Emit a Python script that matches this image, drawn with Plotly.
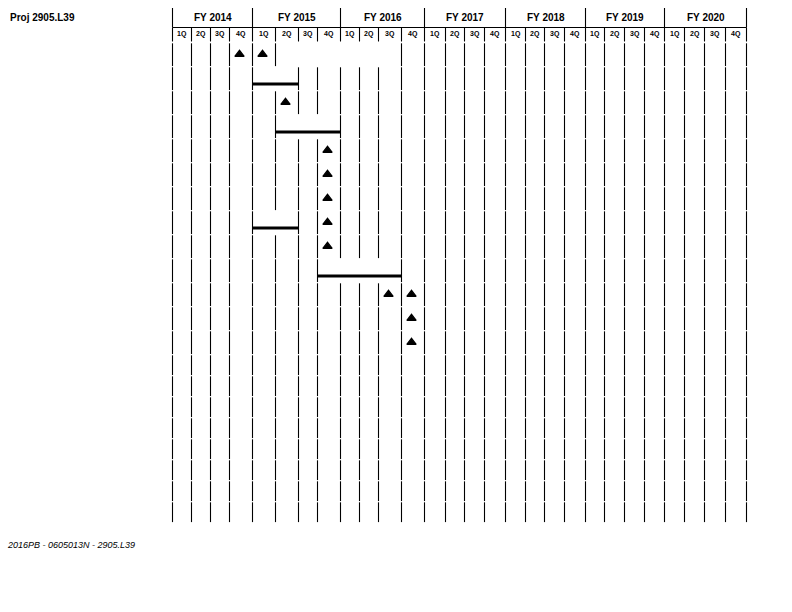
import plotly.graph_objects as go

# ---------------- data ----------------
project_label = "Proj 2905.L39"
footer_label = "2016PB - 0605013N - 2905.L39"
fiscal_years = ["FY 2014", "FY 2015", "FY 2016", "FY 2017", "FY 2018", "FY 2019", "FY 2020"]
quarter_labels = ["1Q", "2Q", "3Q", "4Q"]
n_rows = 21

# milestones (triangles): row number, fiscal year, quarter
milestone_row = [1, 1, 3, 5, 6, 7, 8, 9, 11, 11, 12, 13]
milestone_fy = ["FY 2014", "FY 2015", "FY 2015", "FY 2015", "FY 2015", "FY 2015",
                "FY 2015", "FY 2015", "FY 2016", "FY 2016", "FY 2016", "FY 2016"]
milestone_q = ["4Q", "1Q", "2Q", "4Q", "4Q", "4Q", "4Q", "4Q", "3Q", "4Q", "4Q", "4Q"]

# activity bars: row number, start (fy, quarter), end (fy, quarter)
bar_row = [2, 4, 8, 10]
bar_from_fy = ["FY 2015", "FY 2015", "FY 2015", "FY 2015"]
bar_from_q = ["1Q", "2Q", "1Q", "4Q"]
bar_to_fy = ["FY 2015", "FY 2015", "FY 2015", "FY 2016"]
bar_to_q = ["2Q", "4Q", "2Q", "3Q"]

# merged (borderless) cell spans without a bar
blank_row = [1]
blank_from_fy = ["FY 2015"]
blank_from_q = ["2Q"]
blank_to_fy = ["FY 2016"]
blank_to_q = ["3Q"]

# ---------------- layout (page units) ----------------
W, H = 792, 612
GRID_X0 = 172.5
QUARTER_WIDTHS = [19, 19, 19, 23, 23, 23, 19, 23, 19, 19, 23, 23, 21, 19,
                  20, 21, 20, 19, 20, 21, 19, 20, 20, 20, 20, 20, 21, 21]
FY_TOP, FY_BOTTOM = 8.0, 27.5
Q_BOTTOM = 41.5
ROWS_TOP = 42.7
ROW_HEIGHTS = [24] * 13 + [21] * 8
FONT = "Liberation Sans, Arial, sans-serif"

edges = [GRID_X0]
for w in QUARTER_WIDTHS:
    edges.append(edges[-1] + w)

row_tops = [ROWS_TOP]
for h in ROW_HEIGHTS:
    row_tops.append(row_tops[-1] + h)


def qidx(fy, q):
    return fiscal_years.index(fy) * 4 + quarter_labels.index(q)


def qcenter(fy, q):
    i = qidx(fy, q)
    return (edges[i] + edges[i + 1]) / 2


# interior edges suppressed per row (merged cells)
suppressed = {}
for r, f1, q1, f2, q2 in zip(bar_row + blank_row, bar_from_fy + blank_from_fy,
                             bar_from_q + blank_from_q, bar_to_fy + blank_to_fy,
                             bar_to_q + blank_to_q):
    a, b = qidx(f1, q1), qidx(f2, q2)
    suppressed.setdefault(r, set()).update(range(a + 1, b + 1))

fig = go.Figure()

# grid lines
gx, gy = [], []
# header: fiscal-year separators
for k in range(0, len(edges), 4):
    gx += [edges[k], edges[k], None]
    gy += [FY_TOP, FY_BOTTOM, None]
# header: line under fiscal years
gx += [edges[0], edges[-1], None]
gy += [FY_BOTTOM, FY_BOTTOM, None]
# header: quarter separators
for e in edges:
    gx += [e, e, None]
    gy += [FY_BOTTOM, Q_BOTTOM, None]
# body rows
for r in range(1, n_rows + 1):
    top, bot = row_tops[r - 1], row_tops[r]
    for k, e in enumerate(edges):
        if k in suppressed.get(r, set()):
            continue
        gx += [e, e, None]
        gy += [top + 0.6, bot - 0.6, None]

fig.add_trace(go.Scatter(x=gx, y=gy, mode="lines",
                         line=dict(color="black", width=1.1),
                         hoverinfo="skip", showlegend=False))

# activity bars
bx, by = [], []
for r, f1, q1, f2, q2 in zip(bar_row, bar_from_fy, bar_from_q, bar_to_fy, bar_to_q):
    y = row_tops[r - 1] + 17.3
    bx += [edges[qidx(f1, q1)], edges[qidx(f2, q2) + 1], None]
    by += [y, y, None]
fig.add_trace(go.Scatter(x=bx, y=by, mode="lines",
                         line=dict(color="black", width=3),
                         hoverinfo="skip", showlegend=False))

# milestones
mx = [qcenter(f, q) - 1.5 for f, q in zip(milestone_fy, milestone_q)]
my = [(row_tops[r - 1] + row_tops[r]) / 2 - 0.3 for r in milestone_row]
fig.add_trace(go.Scatter(x=mx, y=my, mode="markers",
                         marker=dict(symbol="triangle-up", size=8, color="black",
                                     line=dict(color="black", width=1.4)),
                         hoverinfo="skip", showlegend=False))

# texts
ann = []
for i, fy in enumerate(fiscal_years):
    ann.append(dict(x=(edges[4 * i] + edges[4 * i + 4]) / 2, y=17.5, text="<b>%s</b>" % fy,
                    font=dict(size=10, family=FONT, color="black")))
    for j, q in enumerate(quarter_labels):
        ann.append(dict(x=qcenter(fy, q), y=33.8, text="<b>%s</b>" % q,
                        font=dict(size=7, family=FONT, color="black")))
ann.append(dict(x=8, y=17.5, text="<b>%s</b>" % project_label, xanchor="left",
                font=dict(size=10, family=FONT, color="black")))
ann.append(dict(x=5, y=544.5, text="<i>%s</i>" % footer_label, xanchor="left",
                font=dict(size=9, family=FONT, color="black")))
for a in ann:
    a.update(xref="x", yref="y", showarrow=False)
    a.setdefault("xanchor", "center")
    a["yanchor"] = "middle"

fig.update_layout(
    width=W, height=H,
    margin=dict(l=0, r=0, t=0, b=0),
    paper_bgcolor="white", plot_bgcolor="white",
    xaxis=dict(range=[0, W], visible=False, fixedrange=True),
    yaxis=dict(range=[H, 0], visible=False, fixedrange=True),
    annotations=ann,
)

fig.write_html("out.html")
